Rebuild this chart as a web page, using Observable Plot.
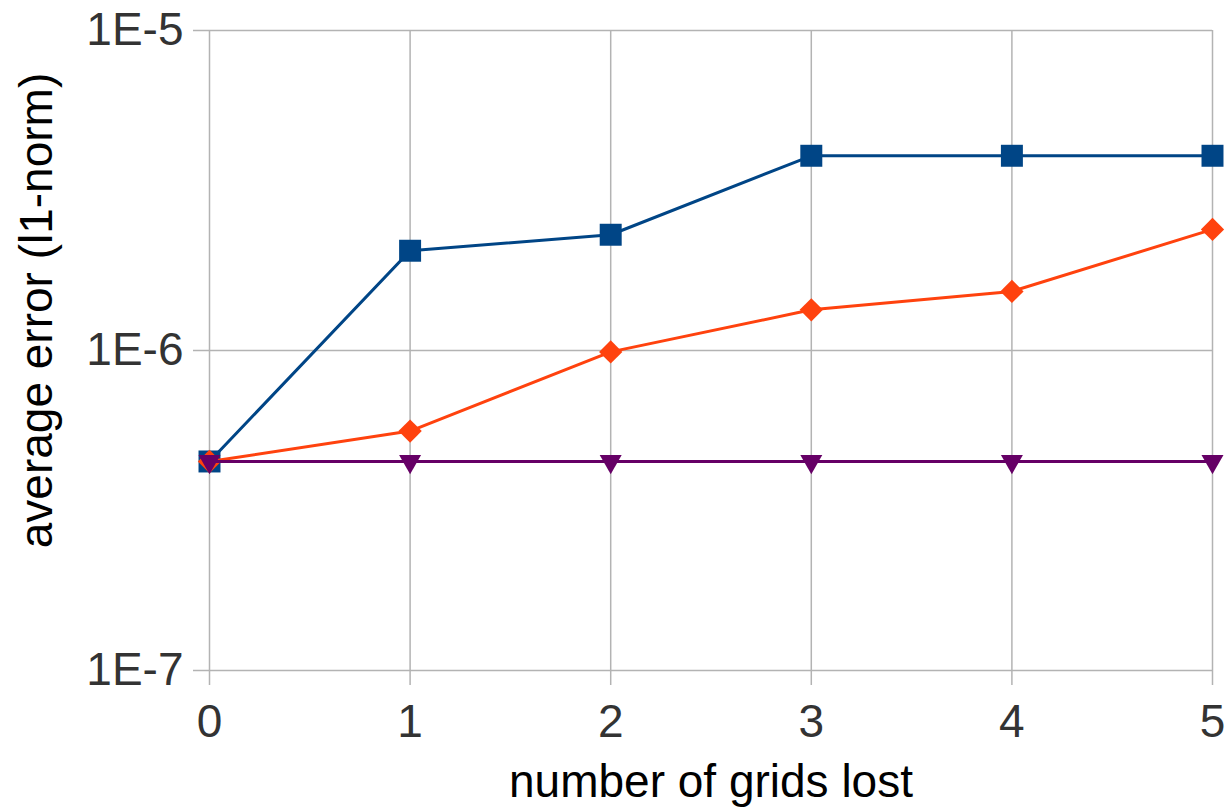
<!DOCTYPE html>
<html>
<head>
<meta charset="utf-8">
<script src="https://cdn.jsdelivr.net/npm/d3@7"></script>
<script src="https://cdn.jsdelivr.net/npm/@observablehq/plot@0.6"></script>
<style>
  html, body { margin: 0; padding: 0; background: #fff; }
  #chart svg { display: block; }
</style>
</head>
<body>
<div id="chart"></div>
<script>
const gridsLost = [0, 1, 2, 3, 4, 5];
const seriesBlue = [4.5e-7, 2.05e-6, 2.3e-6, 4.06e-6, 4.06e-6, 4.06e-6];
const seriesOrange = [4.5e-7, 5.6e-7, 9.9e-7, 1.34e-6, 1.53e-6, 2.39e-6];
const seriesPurple = [4.5e-7, 4.5e-7, 4.5e-7, 4.5e-7, 4.5e-7, 4.5e-7];
const yTicks = [1e-7, 1e-6, 1e-5];
const xTitle = "number of grids lost";
const yTitle = "average error (l1-norm)";

const toRows = (vals) => gridsLost.map((x, i) => ({x, y: vals[i]}));
const blue = toRows(seriesBlue);
const orange = toRows(seriesOrange);
const purple = toRows(seriesPurple);

const font = "Liberation Sans, Arial, sans-serif";
const gridColor = "#b3b3b3";

const chart = Plot.plot({
  width: 1229,
  height: 808,
  marginLeft: 209,
  marginRight: 17,
  marginTop: 30,
  marginBottom: 138,
  style: {fontFamily: font, background: "#fff"},
  x: {domain: [0, 5]},
  y: {type: "log", domain: [1e-7, 1e-5]},
  marks: [
    Plot.gridY(yTicks, {stroke: gridColor, strokeOpacity: 1, strokeWidth: 1.5}),
    Plot.gridX(gridsLost, {stroke: gridColor, strokeOpacity: 1, strokeWidth: 1.5}),
    Plot.axisY(yTicks, {
      tickSize: 16, tickPadding: 10, stroke: gridColor, strokeWidth: 1.5,
      fill: "#333", fontSize: 46, label: null,
      tickFormat: d => "1E" + Math.round(Math.log10(d))
    }),
    Plot.axisX(gridsLost, {
      tickSize: 15, tickPadding: 19, stroke: gridColor, strokeWidth: 1.5,
      fill: "#333", fontSize: 46, label: null, tickFormat: d => String(d)
    }),
    Plot.line(blue, {x: "x", y: "y", stroke: "#004586", strokeWidth: 3}),
    Plot.dot(blue, {x: "x", y: "y", symbol: "square", r: 12.4, fill: "#004586"}),
    Plot.line(orange, {x: "x", y: "y", stroke: "#ff420e", strokeWidth: 3}),
    Plot.dot(orange, {x: "x", y: "y", symbol: "diamond2", r: 10.5, fill: "#ff420e"}),
    Plot.line(purple, {x: "x", y: "y", stroke: "#660066", strokeWidth: 3}),
    Plot.dot(purple, {x: "x", y: "y", symbol: "triangle2", rotate: 180, r: 10.5, fill: "#660066"}),
    Plot.text([xTitle], {frameAnchor: "bottom", textAnchor: "middle", dy: 126, fontSize: 46, fill: "#000", text: d => d}),
    Plot.text([yTitle], {frameAnchor: "left", textAnchor: "middle", dx: -172, dy: -40, rotate: -90, fontSize: 46, fill: "#000", text: d => d})
  ]
});
document.getElementById("chart").appendChild(chart);
</script>
</body>
</html>
